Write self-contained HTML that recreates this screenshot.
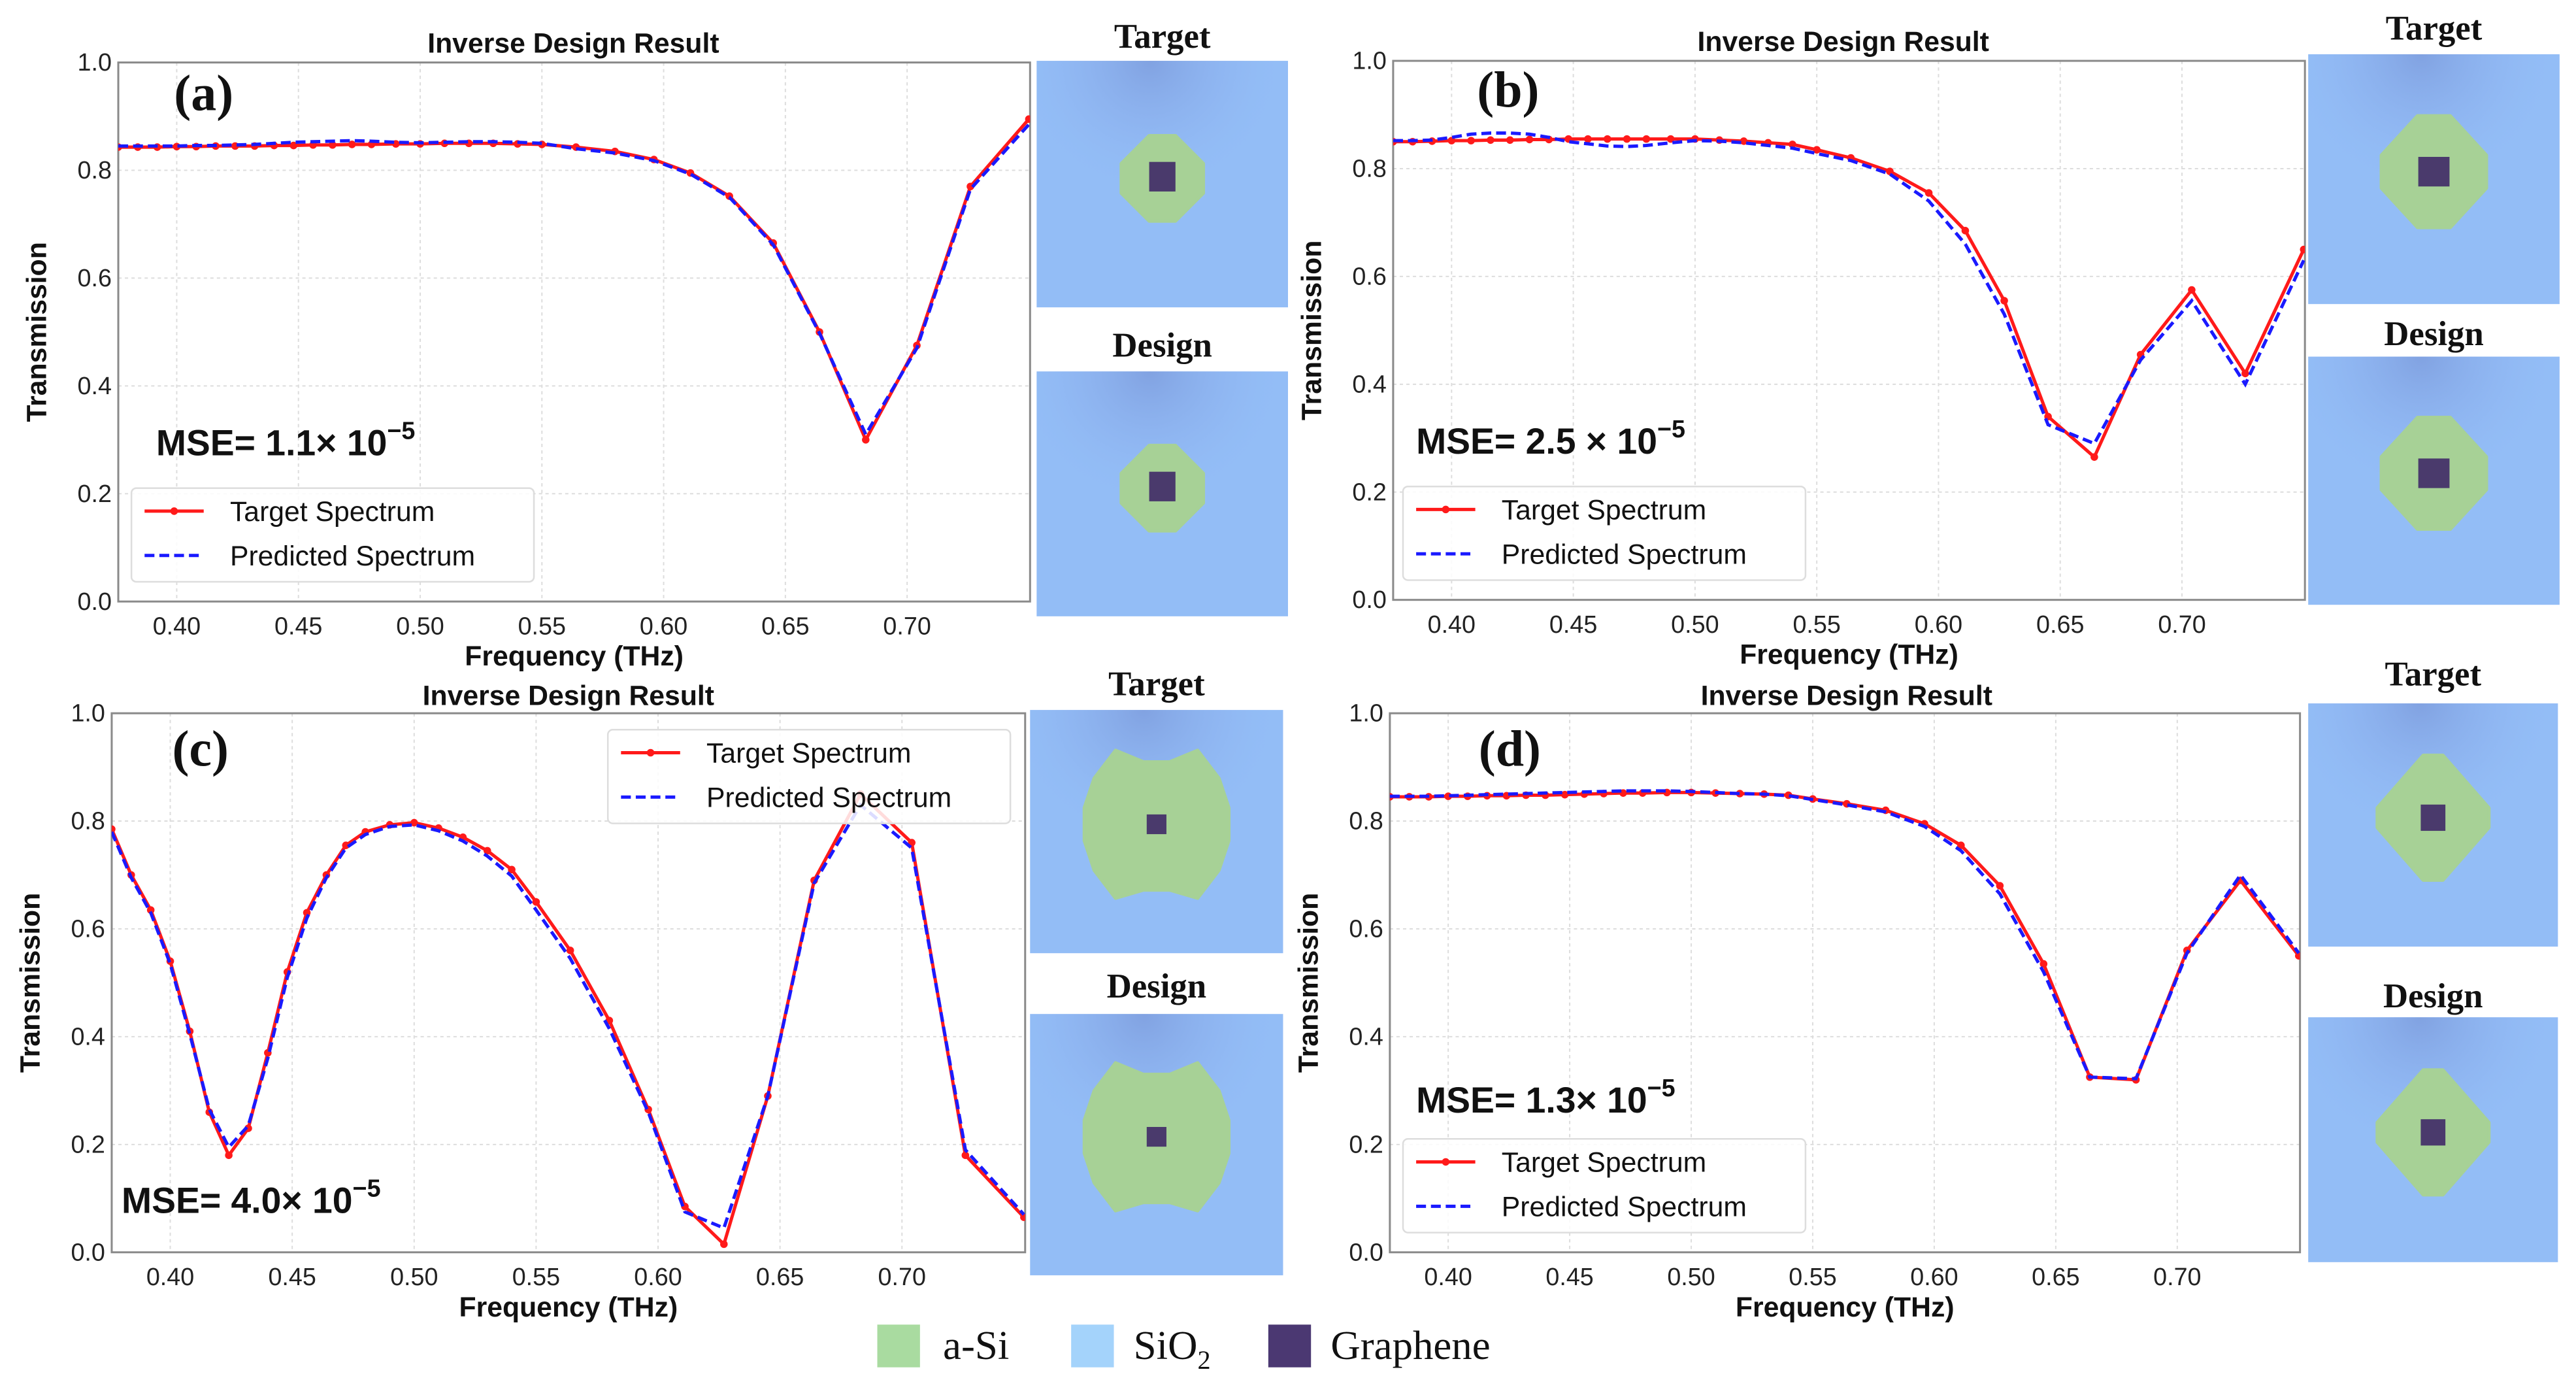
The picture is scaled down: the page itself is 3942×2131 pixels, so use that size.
<!DOCTYPE html>
<html><head><meta charset="utf-8">
<style>
html,body{margin:0;padding:0;background:#fff;}
svg{display:block;}
text{font-family:"Liberation Sans",sans-serif;}
.serif{font-family:"Liberation Serif",serif;}
</style></head>
<body>
<svg id="fig" xmlns="http://www.w3.org/2000/svg" width="3942" height="2131" viewBox="0 0 1568 847.6">
<defs>
<radialGradient id="shade" cx="0.45" cy="0.0" r="0.55">
<stop offset="0" stop-color="#7f9fdf" stop-opacity="0.9"/>
<stop offset="0.6" stop-color="#8cb0ee" stop-opacity="0.4"/>
<stop offset="1" stop-color="#93bdf6" stop-opacity="0"/>
</radialGradient>
</defs>
</svg>
<script>
const freq = [0.376,0.384,0.392,0.400,0.408,0.416,0.424,0.432,0.440,0.448,0.456,0.464,0.472,0.480,0.490,0.500,0.510,0.520,0.530,0.540,0.550,0.564,0.580,0.596,0.611,0.627,0.645,0.664,0.683,0.704,0.726,0.750];
const targetA = [0.843,0.843,0.843,0.844,0.844,0.845,0.845,0.845,0.846,0.846,0.847,0.847,0.848,0.848,0.849,0.849,0.850,0.850,0.850,0.849,0.848,0.843,0.835,0.820,0.795,0.752,0.665,0.500,0.300,0.475,0.770,0.895];
const predA   = [0.845,0.845,0.845,0.845,0.846,0.846,0.847,0.848,0.850,0.852,0.853,0.854,0.855,0.854,0.852,0.851,0.852,0.853,0.853,0.852,0.850,0.840,0.832,0.818,0.793,0.750,0.662,0.498,0.310,0.470,0.765,0.885];
const targetB = [0.850,0.850,0.851,0.852,0.852,0.853,0.853,0.854,0.854,0.855,0.855,0.855,0.855,0.855,0.855,0.855,0.853,0.851,0.848,0.845,0.835,0.820,0.795,0.755,0.685,0.555,0.340,0.265,0.455,0.575,0.420,0.650];
const predB   = [0.852,0.852,0.853,0.858,0.864,0.866,0.866,0.864,0.858,0.850,0.846,0.842,0.841,0.843,0.848,0.852,0.851,0.848,0.843,0.838,0.828,0.815,0.790,0.740,0.660,0.530,0.325,0.290,0.445,0.555,0.400,0.630];
const targetC = [0.785,0.700,0.635,0.540,0.410,0.260,0.180,0.230,0.370,0.520,0.630,0.700,0.755,0.780,0.793,0.797,0.787,0.770,0.745,0.710,0.650,0.560,0.430,0.265,0.085,0.015,0.290,0.690,0.850,0.760,0.180,0.065];
const predC   = [0.780,0.695,0.630,0.535,0.405,0.265,0.195,0.235,0.360,0.510,0.620,0.695,0.750,0.775,0.790,0.793,0.782,0.763,0.735,0.698,0.635,0.545,0.415,0.260,0.075,0.045,0.290,0.685,0.830,0.750,0.190,0.070];
const targetD = [0.845,0.845,0.845,0.846,0.846,0.847,0.847,0.848,0.848,0.849,0.850,0.851,0.852,0.852,0.853,0.853,0.852,0.851,0.850,0.848,0.841,0.832,0.820,0.795,0.755,0.680,0.535,0.325,0.320,0.560,0.690,0.550];
const predD   = [0.846,0.846,0.846,0.847,0.848,0.849,0.850,0.851,0.852,0.853,0.854,0.855,0.856,0.856,0.856,0.855,0.853,0.851,0.850,0.847,0.840,0.830,0.817,0.790,0.745,0.665,0.520,0.325,0.322,0.555,0.700,0.555];
const xTicks = [0.40,0.45,0.50,0.55,0.60,0.65,0.70];
const xTickLabels = ["0.40","0.45","0.50","0.55","0.60","0.65","0.70"];
const yTicks = [0,0.2,0.4,0.6,0.8,1.0];
const yTickLabels = ["0.0","0.2","0.4","0.6","0.8","1.0"];
const mseLabels = ["1.1\u00d7 10","2.5 \u00d7 10","4.0\u00d7 10","1.3\u00d7 10"];

const NS = "http://www.w3.org/2000/svg";
const svg = document.getElementById('fig');
function mk(tag, attrs, parent){
  const e = document.createElementNS(NS, tag);
  for (const k in attrs) e.setAttribute(k, attrs[k]);
  (parent||svg).appendChild(e);
  return e;
}
const XMIN=0.376, XMAX=0.7505;

const panels = [
  {id:'a', L:72, R:627, T:38, B:366, tgt:targetA, pred:predA, letter:[124,57], mse:[95,268], leg:[80,297], title:[349,26], img:{x:631,w:153,t:[37,187],d:[226,375],lt:22,ld:210}, shape:'oct', xlab:399},
  {id:'b', L:848, R:1403, T:37, B:365, tgt:targetB, pred:predB, letter:[918,55], mse:[862,267], leg:[854,296], title:[1122,25], img:{x:1405,w:153,t:[33,185],d:[217,368],lt:17,ld:203}, shape:'round', xlab:398},
  {id:'c', L:68, R:624, T:434, B:762, tgt:targetC, pred:predC, letter:[122,456], mse:[74,729], leg:[370,444], title:[346,423], img:{x:627,w:154,t:[432,580],d:[617,776],lt:416,ld:600}, shape:'big', xlab:795},
  {id:'d', L:846, R:1400, T:434, B:762, tgt:targetD, pred:predD, letter:[919,456], mse:[862,668], leg:[854,693], title:[1124,423], img:{x:1405,w:152,t:[428,576],d:[619,768],lt:410,ld:606}, shape:'diamond', xlab:795}
];

panels.forEach((p,pi)=>{
  const g = mk('g',{});
  
  
  const sx = v => p.L + (v-XMIN)/(XMAX-XMIN)*(p.R-p.L);
  const sy = v => p.B - v*(p.B-p.T);
  xTicks.forEach((t,i)=>{
    const l = mk('line',{x1:sx(t),x2:sx(t),y1:p.T,y2:p.B,stroke:'#ddd','stroke-width':0.8,'stroke-dasharray':'2,2'},g);
    
    
    const tx = mk('text',{x:sx(t),y:p.B+20,'font-size':15,'text-anchor':'middle',fill:'#222'},g);
    tx.textContent = xTickLabels[i];
    
    
  });
  yTicks.forEach((t,i)=>{
    if (t>0 && t<1){
      const l = mk('line',{x1:p.L,x2:p.R,y1:sy(t),y2:sy(t),stroke:'#ddd','stroke-width':0.8,'stroke-dasharray':'2,2'},g);
      
      
    }
    const tx = mk('text',{x:p.L-4,y:sy(t)+5,'font-size':15,'text-anchor':'end',fill:'#222'},g);
    tx.textContent = yTickLabels[i];
    
    
  });
  const fr = mk('rect',{x:p.L,y:p.T,width:p.R-p.L,height:p.B-p.T,fill:'none',stroke:'#8a8a8a','stroke-width':1.2},g);
  
  
  const cp = mk('clipPath',{id:'clip'+p.id},g);
  mk('rect',{x:p.L,y:p.T,width:p.R-p.L,height:p.B-p.T},cp);
  const pts = arr => arr.map((v,i)=>sx(freq[i]).toFixed(2)+','+sy(v).toFixed(2)).join(' ');
  const tl = mk('polyline',{points:pts(p.tgt),fill:'none',stroke:'#ff1a1a','stroke-width':2,'clip-path':'url(#clip'+p.id+')'},g);
  
  
  p.tgt.forEach((v,i)=>{
    const c = mk('circle',{cx:sx(freq[i]),cy:sy(v),r:2.3,fill:'#ff1a1a','clip-path':'url(#clip'+p.id+')'},g);
    
    
  });
  const pl = mk('polyline',{points:pts(p.pred),fill:'none',stroke:'#1a1aff','stroke-width':2,'stroke-dasharray':'6,3','clip-path':'url(#clip'+p.id+')'},g);
  
  
  const ti = mk('text',{x:p.title[0],y:p.title[1]+6,'font-size':17,'font-weight':'bold','text-anchor':'middle',fill:'#111'},g);
  ti.textContent = 'Inverse Design Result';
  
  
  const xl = mk('text',{x:(p.L+p.R)/2,y:p.xlab+6,'font-size':17,'font-weight':'bold','text-anchor':'middle',fill:'#111'},g);
  xl.textContent = 'Frequency (THz)';
  
  
  const yc = (p.T+p.B)/2;
  const yl = mk('text',{x:0,y:0,'font-size':17,'font-weight':'bold','text-anchor':'middle',fill:'#111',transform:'translate('+(p.L-44)+','+yc+') rotate(-90)'},g);
  yl.textContent = 'Transmission';
  
  
  const le = mk('text',{x:p.letter[0],y:p.letter[1]+10,'font-size':31,'font-weight':'bold','text-anchor':'middle',fill:'#111',class:'serif'},g);
  le.textContent = '('+p.id+')';
  
  
  const ms = mk('text',{x:p.mse[0],y:p.mse[1]+9,'font-size':22,'font-weight':'bold',fill:'#111'},g);
  
  
  ms.textContent = 'MSE= '+mseLabels[pi];
  const sup = mk('tspan',{dy:-10,'font-size':15},ms);
  sup.textContent = '\u22125';
  const lg = mk('g',{},g);
  
  
  mk('rect',{x:p.leg[0],y:p.leg[1],width:245,height:57,rx:3,fill:'#fff','fill-opacity':0.85,stroke:'#ddd','stroke-width':1},lg);
  const y1=p.leg[1]+14, y2=p.leg[1]+41;
  mk('line',{x1:p.leg[0]+8,x2:p.leg[0]+44,y1:y1,y2:y1,stroke:'#ff1a1a','stroke-width':2},lg);
  mk('circle',{cx:p.leg[0]+26,cy:y1,r:2.3,fill:'#ff1a1a'},lg);
  const t1 = mk('text',{x:p.leg[0]+60,y:y1+6,'font-size':17,fill:'#111'},lg);
  t1.textContent='Target Spectrum';
  
  
  mk('line',{x1:p.leg[0]+8,x2:p.leg[0]+44,y1:y2,y2:y2,stroke:'#1a1aff','stroke-width':2,'stroke-dasharray':'6,3'},lg);
  const t2 = mk('text',{x:p.leg[0]+60,y:y2+6,'font-size':17,fill:'#111'},lg);
  t2.textContent='Predicted Spectrum';
  
  
  const I = p.img;
  [['Target',I.t,I.lt],['Design',I.d,I.ld]].forEach(([lab,yy,ly])=>{
    const ig = mk('g',{},g);
    
    
    const w=I.w, h=yy[1]-yy[0], cx=I.x+w/2, cy=yy[0]+h*0.47;
    mk('rect',{x:I.x,y:yy[0],width:w,height:h,fill:'#93bdf6'},ig);
    mk('rect',{x:I.x,y:yy[0],width:w,height:h,fill:'url(#shade)'},ig);
    let poly, gs;
    if (p.shape==='oct'){ poly=[[-8,-25],[8,-25],[25,-8],[25,10],[8,27],[-8,27],[-25,10],[-25,-8]]; gs=[16,18]; }
    else if (p.shape==='round'){ poly=[[-10,-34],[10,-34],[32,-10],[32,10],[10,34],[-10,34],[-32,10],[-32,-10]]; gs=[19,18]; }
    else if (p.shape==='big'){ poly=[[-25,-45],[-8,-38],[8,-38],[25,-45],[38,-28],[44,-10],[44,10],[38,28],[25,45],[8,40],[-8,40],[-25,45],[-38,28],[-44,10],[-44,-10],[-38,-28]]; gs=[12,12]; }
    else { poly=[[-6,-38],[6,-38],[34,-6],[34,6],[6,38],[-6,38],[-34,6],[-34,-6]]; gs=[15,16]; }
    const gp = mk('polygon',{points:poly.map(q=>(cx+q[0])+','+(cy+q[1])).join(' '),fill:'#a7d196','stroke':'#a7d196','stroke-width':2,'stroke-linejoin':'round'},ig);
    
    
    const gr = mk('rect',{x:cx-gs[0]/2,y:cy-gs[1]/2,width:gs[0],height:gs[1],fill:'#4a3a6c'},ig);
    
    
    const lt = mk('text',{x:cx,y:ly+7,'font-size':21,'font-weight':'bold','text-anchor':'middle',fill:'#111',class:'serif'},ig);
    lt.textContent = lab;
    
    
  });
});
const ml = mk('g',{});


[['a-Si','#a9dba0',534,574],['SiO','#a4d3fb',652,690],['Graphene','#4b3872',772,810]].forEach(([lab,col,sx0,tx0])=>{
  const r = mk('rect',{x:sx0,y:806,width:26,height:26,fill:col},ml);
  
  
  const t = mk('text',{x:tx0,y:827,'font-size':25,fill:'#111',class:'serif'},ml);
  t.textContent = lab;
  
  
  if (lab==='SiO'){ const s = mk('tspan',{dy:6,'font-size':16},t); s.textContent='2'; }
});
</script>
</body></html>
